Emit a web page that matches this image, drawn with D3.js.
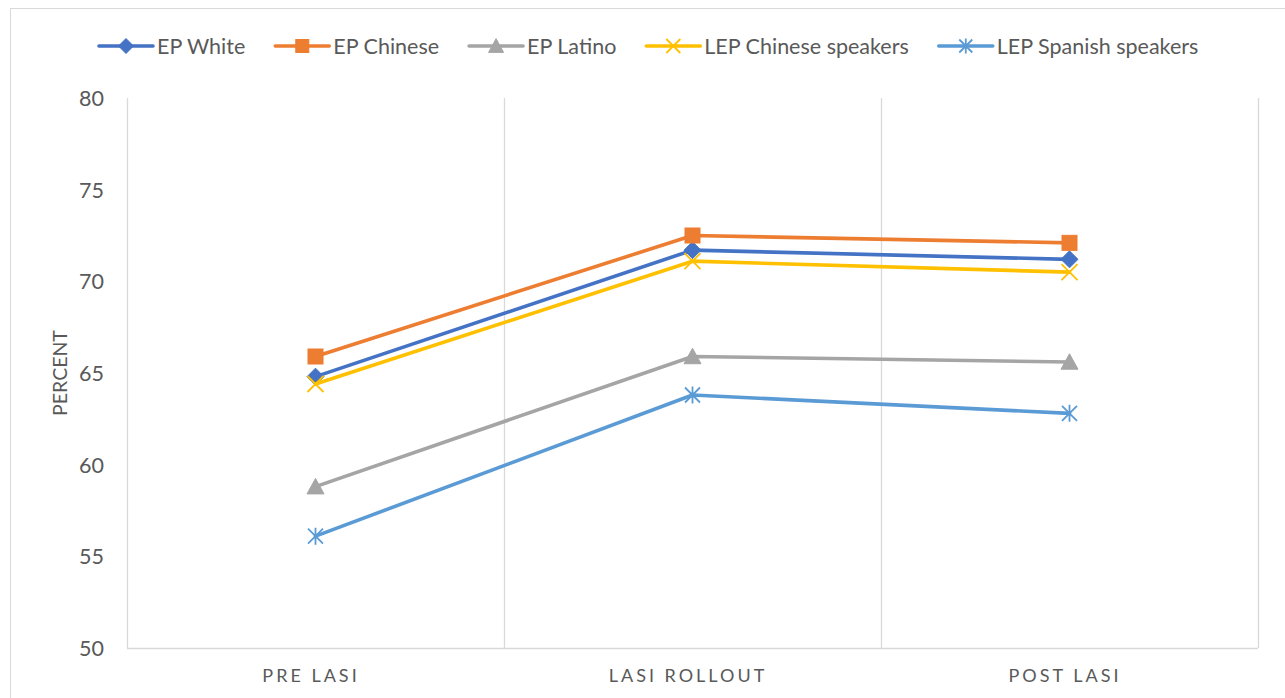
<!DOCTYPE html>
<html>
<head>
<meta charset="utf-8">
<script src="https://cdn.jsdelivr.net/npm/d3@7"></script>
<style>
  html, body { margin: 0; padding: 0; background: #fff; }
  svg { display: block; }
  text { font-family: Lato, "Open Sans", sans-serif; fill: #595959; }
</style>
</head>
<body>
<svg id="chart" width="1285" height="698"></svg>
<script>
// Categories along the x axis
const categories = ["PRE LASI", "LASI ROLLOUT", "POST LASI"];

// Series names and their percent values per category
const seriesNames = ["EP White", "EP Chinese", "EP Latino", "LEP Chinese speakers", "LEP Spanish speakers"];
const epWhite = [64.8, 71.7, 71.2];
const epChinese = [65.9, 72.5, 72.1];
const epLatino = [58.8, 65.9, 65.6];
const lepChinese = [64.4, 71.1, 70.5];
const lepSpanish = [56.1, 63.8, 62.8];

// Y axis ticks
const yTicks = [50, 55, 60, 65, 70, 75, 80];
const yTitle = "PERCENT";

const seriesValues = [epWhite, epChinese, epLatino, lepChinese, lepSpanish];
const colors = ["#4472C4", "#ED7D31", "#A5A5A5", "#FFC000", "#5B9BD5"];
const markers = ["diamond", "square", "triangle", "x", "star"];

const svg = d3.select("#chart");

// Outer chart frame
svg.append("rect")
  .attr("x", 10.5).attr("y", 8.5)
  .attr("width", 1290).attr("height", 700)
  .attr("fill", "none").attr("stroke", "#D9D9D9").attr("stroke-width", 1);

const plot = { left: 127, right: 1258, top: 98, bottom: 648 };

const x = d3.scaleBand().domain(categories).range([plot.left, plot.right]).paddingInner(0).paddingOuter(0);
const y = d3.scaleLinear().domain([50, 80]).range([plot.bottom, plot.top]);

// Vertical gridlines on category boundaries
const bounds = categories.map(c => x(c)).concat([x.range()[1]]);
svg.append("g").selectAll("line").data(bounds).join("line")
  .attr("x1", d => Math.round(d) + 0.5).attr("x2", d => Math.round(d) + 0.5)
  .attr("y1", plot.top).attr("y2", plot.bottom)
  .attr("stroke", "#D9D9D9").attr("stroke-width", 1.3);

// Category axis line
svg.append("line")
  .attr("x1", plot.left).attr("x2", plot.right)
  .attr("y1", plot.bottom + 0.5).attr("y2", plot.bottom + 0.5)
  .attr("stroke", "#D9D9D9").attr("stroke-width", 1.3);

// Y axis labels
const yAxis = d3.axisLeft(y).tickValues(yTicks).tickSize(0).tickPadding(0);
const yg = svg.append("g").attr("transform", `translate(${plot.left - 23},0)`).call(yAxis);
yg.select(".domain").remove();
yg.selectAll("text")
  .style("font-family", "Lato, 'Open Sans', sans-serif")
  .attr("font-size", 21.5).attr("fill", "#595959").attr("dy", "0.35em");

// X axis labels (spaced capitals)
const xAxis = d3.axisBottom(x).tickSize(0).tickPadding(0);
const xg = svg.append("g").attr("transform", `translate(0,${plot.bottom})`).call(xAxis);
xg.select(".domain").remove();
xg.selectAll("text")
  .style("font-family", "Lato, 'Open Sans', sans-serif")
  .attr("font-size", 18).attr("fill", "#595959")
  .attr("letter-spacing", "3px")
  .attr("dy", 0).attr("y", 34)
  .attr("dx", "-4.5px");

// Y axis title
svg.append("text")
  .attr("transform", `translate(67,${(plot.top + plot.bottom) / 2}) rotate(-90)`)
  .attr("text-anchor", "middle")
  .attr("font-size", 19.5)
  .text(yTitle);

// Marker shapes
function drawMarker(g, type, color, cx, cy, s) {
  if (type === "diamond") {
    g.append("path").attr("d", `M${cx},${cy - s/2}L${cx + s/2},${cy}L${cx},${cy + s/2}L${cx - s/2},${cy}Z`)
      .attr("fill", color).attr("stroke", color).attr("stroke-width", 1);
  } else if (type === "square") {
    g.append("rect").attr("x", cx - s/2 + 0.5).attr("y", cy - s/2 + 0.5).attr("width", s - 1).attr("height", s - 1)
      .attr("fill", color).attr("stroke", color).attr("stroke-width", 1);
  } else if (type === "triangle") {
    const h = s * 0.85;
    g.append("path").attr("d", `M${cx},${cy - h/2 - 1}L${cx + s/2},${cy + h/2}L${cx - s/2},${cy + h/2}Z`)
      .attr("fill", color).attr("stroke", color).attr("stroke-width", 1);
  } else if (type === "x") {
    const r = s / 2;
    g.append("path").attr("d", `M${cx - r},${cy - r}L${cx + r},${cy + r}M${cx - r},${cy + r}L${cx + r},${cy - r}`)
      .attr("stroke", color).attr("stroke-width", 1.8).attr("fill", "none");
  } else if (type === "star") {
    const r = s / 2;
    g.append("path").attr("d", `M${cx - r},${cy - r}L${cx + r},${cy + r}M${cx - r},${cy + r}L${cx + r},${cy - r}M${cx},${cy - r - 1}L${cx},${cy + r + 1}`)
      .attr("stroke", color).attr("stroke-width", 1.8).attr("fill", "none");
  }
}

const line = d3.line()
  .x((d, i) => x(categories[i]) + x.bandwidth() / 2)
  .y(d => y(d));

const markerSize = [17, 16, 17, 16, 15];

seriesValues.forEach((vals, k) => {
  const g = svg.append("g");
  g.append("path").datum(vals).attr("d", line)
    .attr("fill", "none").attr("stroke", colors[k]).attr("stroke-width", 3.6)
    .attr("stroke-linejoin", "round").attr("stroke-linecap", "round");
  vals.forEach((v, i) => {
    drawMarker(g, markers[k], colors[k], x(categories[i]) + x.bandwidth() / 2, y(v), markerSize[k]);
  });
});

// Legend
const legend = svg.append("g");
const legendY = 46;
const lineLen = 54;
const itemGap = 30;
let lx = 99;
seriesNames.forEach((name, k) => {
  const g = legend.append("g");
  g.append("line").attr("x1", lx).attr("x2", lx + lineLen).attr("y1", legendY).attr("y2", legendY)
    .attr("stroke", colors[k]).attr("stroke-width", 3.6).attr("stroke-linecap", "round");
  drawMarker(g, markers[k], colors[k], lx + lineLen / 2, legendY, markerSize[k] - 2);
  const t = g.append("text").attr("x", lx + lineLen + 4).attr("y", legendY).attr("dy", "0.35em")
    .attr("font-size", 21.5).text(name);
  lx += lineLen + 4 + t.node().getComputedTextLength() + itemGap;
});
</script>
</body>
</html>
